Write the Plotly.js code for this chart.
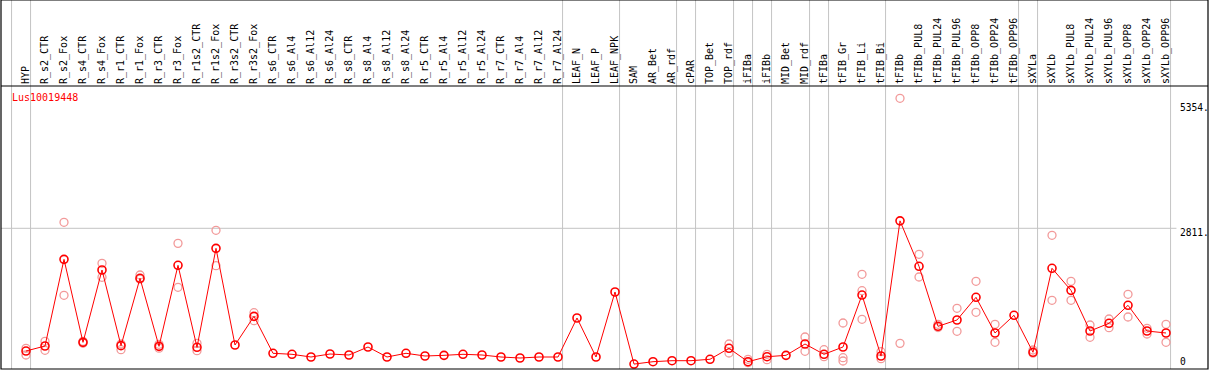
<!DOCTYPE html>
<html>
<head>
<meta charset="utf-8">
<script src="https://cdn.plot.ly/plotly-3.0.1.min.js"></script>
<style>
  html, body { margin: 0; padding: 0; background: #ffffff; }
  #chart { width: 1209px; height: 370px; }
</style>
</head>
<body>
<div id="chart"></div>
<script>
// ---------------- data ----------------
const geneName = 'Lus10019448';

const categories = [
  'HYP','R_s2_CTR','R_s2_Fox','R_s4_CTR','R_s4_Fox','R_r1_CTR','R_r1_Fox','R_r3_CTR','R_r3_Fox',
  'R_r1s2_CTR','R_r1s2_Fox','R_r3s2_CTR','R_r3s2_Fox',
  'R_s6_CTR','R_s6_Al4','R_s6_Al12','R_s6_Al24','R_s8_CTR','R_s8_Al4','R_s8_Al12','R_s8_Al24',
  'R_r5_CTR','R_r5_Al4','R_r5_Al12','R_r5_Al24','R_r7_CTR','R_r7_Al4','R_r7_Al12','R_r7_Al24',
  'LEAF_N','LEAF_P','LEAF_NPK','SAM','AR_Bet','AR_rdf','cPAR','TOP_Bet','TOP_rdf',
  'iFIBa','iFIBb','MID_Bet','MID_rdf','tFIBa','tFIB_Gr','tFIB_Li','tFIB_Bi',
  'tFIBb','tFIBb_PUL8','tFIBb_PUL24','tFIBb_PUL96','tFIBb_OPP8','tFIBb_OPP24','tFIBb_OPP96',
  'sXYLa','sXYLb','sXYLb_PUL8','sXYLb_PUL24','sXYLb_PUL96','sXYLb_OPP8','sXYLb_OPP24','sXYLb_OPP96'
];

const meanValues = [
  225, 331, 2157, 408, 1932, 338, 1757, 324, 2031,
  303, 2389, 352, 956,
  177, 156, 99, 162, 141, 310, 99, 177,
  120, 134, 156, 141, 99, 78, 99, 99,
  921, 99, 1469, -50, 0, 21, 21, 51, 282,
  0, 105, 134, 373, 156, 310, 1405, 120,
  2968, 2010, 746, 879, 1357, 605, 978,
  198, 1968, 1504, 647, 809, 1188, 647, 605
];

const repHigh = [
  282, 430, 2937, 430, 2073, 373, 1827, 366, 2494,
  387, 2769, null, 1033,
  null, null, null, null, null, null, null, null,
  null, null, null, null, null, null, null, null,
  null, null, null, null, null, null, null, null, 373,
  51, 156, null, 520, 253, 815, 1841, 211,
  5550, 2263, 788, 1125, 1694, 788, null,
  247, 2663, 1694, 773, 900, 1420, 704, 788
];

const repLow = [
  141, 240, 1399, 390, 1778, 253, 1740, 285, 1568,
  232, 2023, null, 864,
  null, null, null, null, null, null, null, null,
  null, null, null, null, null, null, null, null,
  null, null, null, null, null, null, null, null, 183,
  -20, 42, null, 219, 105, 84, 893, 63,
  387, 1785, 720, 640, 1041, 409, null,
  180, 1294, 1294, 514, 716, 942, 584, 409
];

const repExtra = [
  null, null, null, null, null, null, null, null, null,
  null, null, null, null,
  null, null, null, null, null, null, null, null,
  null, null, null, null, null, null, null, null,
  null, null, null, null, null, null, null, null, null,
  null, null, null, null, null, 15, 1496, null,
  null, null, null, null, null, null, null,
  null, null, null, null, null, null, null, null
];

// last category of each sample group (a separator line follows it)
const groupEnds = ['HYP','R_r7_Al24','LEAF_NPK','AR_rdf','cPAR','TOP_rdf','iFIBa','iFIBb',
                   'MID_rdf','tFIBa','tFIB_Bi','tFIBb_OPP96','sXYLa','sXYLb_OPP96'];

const yTickVals = [0, 2811, 5354];
const yTickText = ['0', '2811.', '5354.'];
const yGridVals = [2811];

// ---------------- styling / layout ----------------
const W = 1209, H = 370;
const M = { l: 1, r: 1, t: 86, b: 1 };
const plotW = W - M.l - M.r, plotH = H - M.t - M.b;
const xRange = [-1.3158, 62.21];
const yRange = [-153.8, 5809.5];
const GRID = '#c4c4c4';
const RED = '#ff0000';
const PINK = '#f29a9a';
const FONT = 'DejaVu Sans Mono, Liberation Mono, monospace';

const xPaper = v => (v - xRange[0]) / (xRange[1] - xRange[0]);
const yTopPaper = 1 + M.t / plotH;

const shapes = [];
// vertical separators, spanning labels area and plot
const sepPositions = [-1].concat(groupEnds.map(c => categories.indexOf(c)));
sepPositions.forEach(p => {
  const xp = xPaper(p + 0.24);
  shapes.push({ type: 'line', xref: 'paper', yref: 'paper', x0: xp, x1: xp, y0: 0, y1: yTopPaper,
    line: { color: GRID, width: 1 }, layer: 'below' });
});
// horizontal grid lines
yGridVals.forEach(v => {
  shapes.push({ type: 'line', xref: 'paper', yref: 'y', x0: 0, x1: xPaper(categories.length - 1 + 0.55),
    y0: v, y1: v, line: { color: GRID, width: 1 }, layer: 'below' });
});
// outer frame and separator of label area
shapes.push({ type: 'rect', xref: 'paper', yref: 'paper', x0: 0, x1: 1, y0: 0, y1: yTopPaper,
  line: { color: '#000000', width: 1.2 }, fillcolor: 'rgba(0,0,0,0)', layer: 'above' });
shapes.push({ type: 'line', xref: 'paper', yref: 'paper', x0: 0, x1: 1, y0: 1, y1: 1,
  line: { color: '#000000', width: 1.2 }, layer: 'above' });

const annotations = [];
annotations.push({ xref: 'paper', yref: 'paper', x: xPaper(-0.84), y: 1 - 11.7 / plotH,
  xanchor: 'left', yanchor: 'middle', showarrow: false, text: geneName,
  font: { family: FONT, size: 10, color: RED } });
yTickVals.forEach((v, i) => {
  annotations.push({ xref: 'paper', yref: 'y', x: xPaper(categories.length - 1 + 0.62), y: v,
    xanchor: 'left', yanchor: 'middle', showarrow: false, text: yTickText[i],
    yshift: yGridVals.indexOf(v) >= 0 ? -4 : 0,
    font: { family: FONT, size: 9.6, color: '#000000' } });
});

const markerBase = { symbol: 'circle-open', size: 8 };

const traces = [];
[repHigh, repLow, repExtra].forEach(rep => {
  traces.push({
    x: categories, y: rep, type: 'scatter', mode: 'markers', hoverinfo: 'x+y',
    marker: Object.assign({}, markerBase, { color: PINK, line: { color: PINK, width: 1.3 } }),
    cliponaxis: false
  });
});
traces.push({
  x: categories, y: meanValues, type: 'scatter', mode: 'lines+markers', hoverinfo: 'x+y',
  line: { color: RED, width: 1 },
  marker: Object.assign({}, markerBase, { color: RED, line: { color: RED, width: 1.6 } }),
  cliponaxis: false
});

const layout = {
  width: W, height: H,
  margin: M,
  paper_bgcolor: '#ffffff', plot_bgcolor: '#ffffff',
  showlegend: false,
  xaxis: {
    type: 'category', categoryorder: 'array', categoryarray: categories,
    range: xRange, side: 'top', tickangle: -90,
    tickfont: { family: FONT, size: 10, color: '#000000' },
    showgrid: false, zeroline: false, showline: false, ticks: '', ticklabelstandoff: 1,
    fixedrange: true
  },
  yaxis: {
    range: yRange, showgrid: false, zeroline: false, showline: false,
    showticklabels: false, ticks: '', fixedrange: true
  },
  shapes: shapes,
  annotations: annotations
};

Plotly.newPlot('chart', traces, layout, { displayModeBar: false, staticPlot: true });
</script>
</body>
</html>
